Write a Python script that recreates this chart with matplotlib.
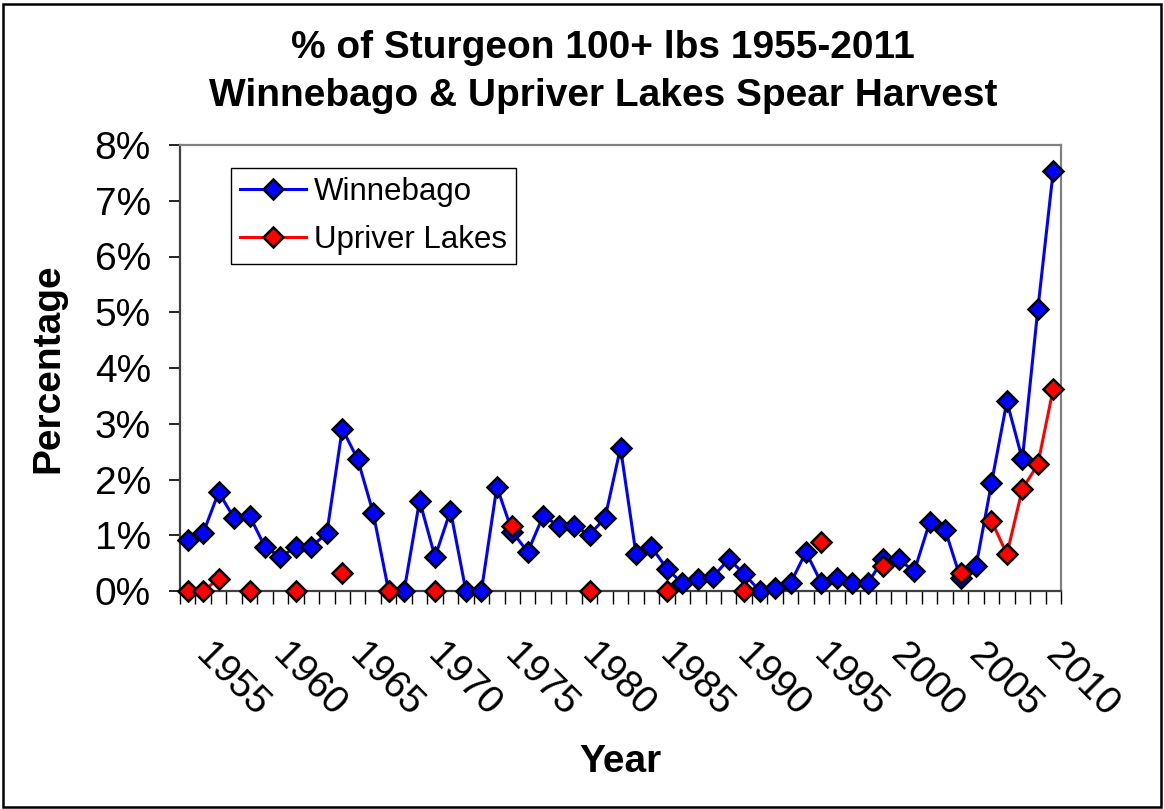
import numpy as np
import matplotlib
matplotlib.use("Agg")
import matplotlib.pyplot as plt
from matplotlib.patches import Rectangle
from matplotlib.transforms import ScaledTranslation
from matplotlib.ticker import PercentFormatter

plt.rcParams["font.family"] = ["Liberation Sans", "DejaVu Sans"]

# Data (percent of harvest weighing 100+ lbs)
years = list(range(1955, 2012))
winnebago = [0.92, 1.04, 1.77, 1.31, 1.35, 0.79, 0.61, 0.79, 0.79, 1.04,
             2.91, 2.36, 1.40, 0.00, 0.00, 1.62, 0.61, 1.44, 0.00, 0.00,
             1.87, 1.06, 0.70, 1.35, 1.17, 1.17, 1.01, 1.31, 2.57, 0.67,
             0.79, 0.40, 0.14, 0.21, 0.26, 0.57, 0.31, 0.00, 0.05, 0.14,
             0.70, 0.14, 0.23, 0.14, 0.14, 0.57, 0.57, 0.35, 1.23, 1.10,
             0.23, 0.44, 1.93, 3.40, 2.36, 5.05, 7.54]
nan = np.nan
upriver = [0.00, 0.00, 0.22, nan, 0.00, nan, nan, 0.00, nan, nan,
           0.32, nan, nan, 0.00, nan, nan, 0.00, nan, nan, nan,
           nan, 1.17, nan, nan, nan, nan, 0.00, nan, nan, nan,
           nan, 0.00, nan, nan, nan, nan, 0.00, nan, nan, nan,
           nan, 0.88, nan, nan, nan, 0.44, nan, nan, nan, nan,
           0.32, nan, 1.26, 0.66, 1.83, 2.27, 3.63]
label_years = [1955, 1960, 1965, 1970, 1975, 1980, 1985, 1990, 1995, 2000, 2005, 2010]

W, H = 1164, 809
fig = plt.figure(figsize=(W / 100, H / 100), dpi=100)
ax = fig.add_axes([180 / W, 1 - 591 / H, (1061 - 180) / W, (591 - 145) / H])

x = np.arange(len(years))
ax.plot(x, winnebago, color="#0000FF", lw=2.2, marker="D", ms=10.5,
        mfc="#0000FF", mec="black", mew=1.8, label="Winnebago", clip_on=False, zorder=3)
ax.plot(x, upriver, color="#FF0000", lw=2.2, marker="D", ms=10.5,
        mfc="#FF0000", mec="black", mew=1.8, label="Upriver Lakes", clip_on=False, zorder=4)

ax.set_xlim(-0.5, len(years) - 0.5)
ax.set_ylim(0, 8)
ax.set_yticks(range(0, 9))
ax.yaxis.set_major_formatter(PercentFormatter(decimals=0))
ax.tick_params(axis="y", labelsize=28, length=8, width=1.2, direction="out", pad=13)

# tick marks between categories, labels every 5 years
ax.set_xticks(np.arange(-0.5, len(years)), minor=True)
ax.tick_params(axis="x", which="minor", length=9, width=1.0, direction="out")
pos = [years.index(y) for y in label_years]
ax.set_xticks(pos, [str(y) for y in label_years], rotation=-45, ha="left",
              va="top", rotation_mode="anchor")
ax.tick_params(axis="x", which="major", length=0, labelsize=28, pad=33)
offset = ScaledTranslation(26 / 100, 0, fig.dpi_scale_trans)
for lab in ax.get_xticklabels():
    lab.set_transform(lab.get_transform() + offset)

for side in ["left", "bottom"]:
    ax.spines[side].set_color("#404040")
    ax.spines[side].set_linewidth(1.6)
for side in ["top", "right"]:
    ax.spines[side].set_color("#808080")
    ax.spines[side].set_linewidth(1.6)

ax.set_ylabel("Percentage", fontsize=28, fontweight="bold")
ax.yaxis.set_label_coords(-0.129, 0.5)
ax.set_xlabel("Year", fontsize=28, fontweight="bold")
ax.xaxis.set_label_coords(0.5, -0.343)

leg = ax.legend(loc="upper left", bbox_to_anchor=((231 - 180) / 881, (591 - 168) / 446),
                fontsize=22.5, frameon=True, fancybox=False, edgecolor="black",
                framealpha=1, borderaxespad=0, handlelength=2.1, handletextpad=0.25,
                labelspacing=0.55, borderpad=0.3)
leg.get_frame().set_linewidth(1.0)

fig.text(603 / W, 1 - 30 / H, "% of Sturgeon 100+ lbs 1955-2011\nWinnebago & Upriver Lakes Spear Harvest",
         ha="center", va="top", fontsize=28, fontweight="bold", linespacing=1.42)

# outer chart border
fig.add_artist(Rectangle((3 / W, 2 / H), 1 - 6 / W, 1 - 6 / H, transform=fig.transFigure,
                         fill=False, edgecolor="black", lw=1.8))

fig.savefig("out.png", dpi=100)
